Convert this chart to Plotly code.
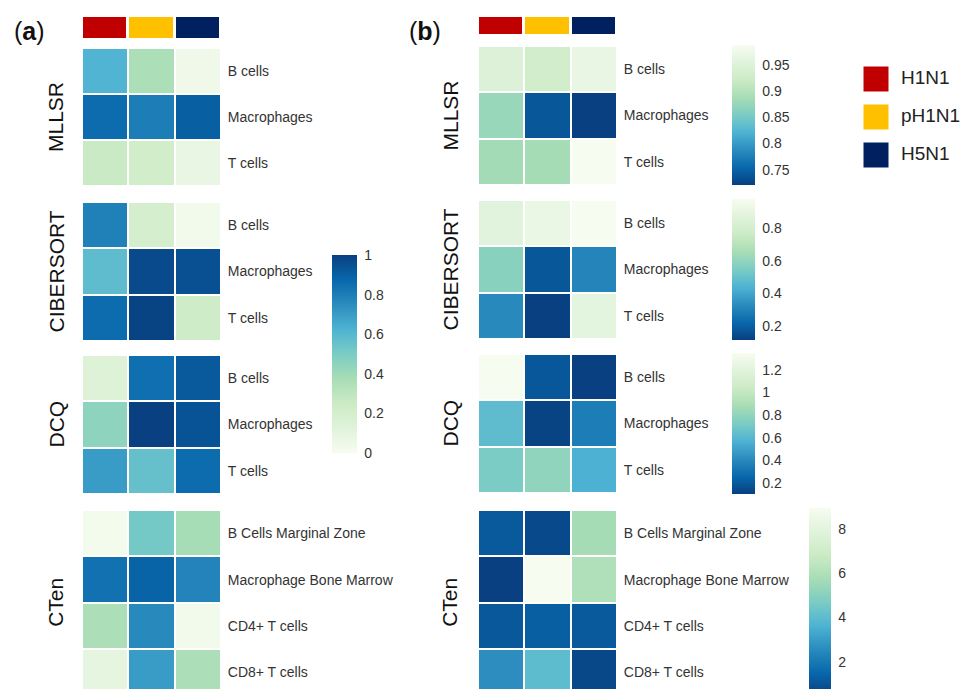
import plotly.graph_objects as go

# ---- data -------------------------------------------------------------
strains = ["H1N1", "pH1N1", "H5N1"]
strain_colors = ["#c00000", "#ffc000", "#002060"]

methods = ["MLLSR", "CIBERSORT", "DCQ", "CTen"]
mllsr_cells = ["B cells", "Macrophages", "T cells"]
cibersort_cells = ["B cells", "Macrophages", "T cells"]
dcq_cells = ["B cells", "Macrophages", "T cells"]
cten_cells = ["B Cells Marginal Zone", "Macrophage Bone Marrow",
              "CD4+ T cells", "CD8+ T cells"]

# (a) scaled scores, rows = cell types, columns = strains
a_mllsr = [[0.62, 0.36, 0.04], [0.86, 0.80, 0.90], [0.26, 0.22, 0.08]]
a_cibersort = [[0.79, 0.20, 0.03], [0.58, 0.97, 0.95], [0.86, 0.99, 0.24]]
a_dcq = [[0.14, 0.85, 0.92], [0.45, 1.00, 0.94], [0.70, 0.56, 0.86]]
a_cten = [[0.02, 0.52, 0.38], [0.84, 0.89, 0.78], [0.36, 0.76, 0.03],
          [0.10, 0.70, 0.36]]

# (b) raw scores
b_mllsr = [[0.948, 0.930, 0.967], [0.876, 0.740, 0.721], [0.884, 0.886, 0.988]]
b_cibersort = [[0.874, 0.917, 0.977], [0.580, 0.175, 0.310], [0.320, 0.114, 0.890]]
b_dcq = [[1.35, 0.19, 0.10], [0.625, 0.11, 0.35], [0.725, 0.80, 0.56]]
b_cten = [[1.13, 0.70, 5.70], [0.45, 8.95, 6.00], [1.10, 1.30, 1.15],
          [2.60, 4.00, 0.65]]

a_ticks = [0, 0.2, 0.4, 0.6, 0.8, 1]
b_mllsr_ticks = [0.75, 0.8, 0.85, 0.9, 0.95]
b_cibersort_ticks = [0.2, 0.4, 0.6, 0.8]
b_dcq_ticks = [0.2, 0.4, 0.6, 0.8, 1, 1.2]
b_cten_ticks = [2, 4, 6, 8]

# ---- styling ----------------------------------------------------------
GNBU = ["#f7fcf0", "#e0f3db", "#ccebc5", "#a8ddb5", "#7bccc4",
        "#4eb3d3", "#2b8cbe", "#0868ac", "#084081"]
GNBU_SCALE = [[i / (len(GNBU) - 1), c] for i, c in enumerate(GNBU)]
FONT = "Liberation Sans"
W, H = 965, 689
ROW_PX = 46.4


def fx(p):
    return p / W


def fy(p):
    return 1 - p / H


def fmt(v):
    return ("%g" % v)


fig = go.Figure()
axes = {}
annotations = []
counter = [0]


def add_axes(x0, x1, y0, y1, xrange, yrange, yextra=None):
    counter[0] += 1
    n = counter[0]
    xk = "xaxis" if n == 1 else "xaxis%d" % n
    yk = "yaxis" if n == 1 else "yaxis%d" % n
    xr = "x" if n == 1 else "x%d" % n
    yr = "y" if n == 1 else "y%d" % n
    axes[xk] = dict(domain=[fx(x0), fx(x1)], range=xrange, visible=False,
                    anchor=yr, fixedrange=True)
    yd = dict(domain=[max(fy(y1), 0), fy(y0)], range=yrange, anchor=xr,
              showgrid=False, zeroline=False, showline=False,
              fixedrange=True, visible=False)
    if yextra:
        yd.update(yextra)
        yd["visible"] = True
    axes[yk] = yd
    return xr, yr


panels = [
    dict(title="a", heat_x=(82, 221), strip_y=(17, 38), title_xy=(29, 31),
         label_x=56, reverse=False,
         blocks=[(a_mllsr, mllsr_cells, 48, 186, None),
                 (a_cibersort, cibersort_cells, 202, 341,
                  dict(x=332, top=255, len=198, thick=25, ticks=a_ticks)),
                 (a_dcq, dcq_cells, 355, 494, None),
                 (a_cten, cten_cells, 510, None, None)]),
    dict(title="b", heat_x=(478, 617), strip_y=(17, 34), title_xy=(425, 31),
         label_x=450, reverse=True,
         blocks=[(b_mllsr, mllsr_cells, 46, 185,
                  dict(x=732, top=45, len=140, thick=23, ticks=b_mllsr_ticks)),
                 (b_cibersort, cibersort_cells, 200, 339,
                  dict(x=732, top=199, len=141, thick=23, ticks=b_cibersort_ticks)),
                 (b_dcq, dcq_cells, 354, 493,
                  dict(x=732, top=353, len=141, thick=23, ticks=b_dcq_ticks)),
                 (b_cten, cten_cells, 510, None,
                  dict(x=809, top=508, len=188, thick=22, ticks=b_cten_ticks))]),
]

strip_scale = []
for i, c in enumerate(strain_colors):
    strip_scale += [[i / len(strain_colors), c], [(i + 1) / len(strain_colors), c]]

for p in panels:
    x0, x1 = p["heat_x"]
    # strain colour strip across the top
    sx, sy = add_axes(x0, x1, p["strip_y"][0], p["strip_y"][1],
                      [-0.5, 2.5], [-0.5, 0.5])
    fig.add_trace(go.Heatmap(z=[list(range(len(strains)))],
                             x=list(range(len(strains))), y=[0],
                             text=[strains], hoverinfo="text",
                             colorscale=strip_scale, zmin=-0.5,
                             zmax=len(strains) - 0.5, showscale=False,
                             xgap=3, xaxis=sx, yaxis=sy))
    annotations.append(dict(
        text="(<b>%s</b>)" % p["title"], x=fx(p["title_xy"][0]),
        y=fy(p["title_xy"][1]), xref="paper", yref="paper",
        xanchor="center", yanchor="middle", showarrow=False,
        font=dict(family=FONT, size=25, color="#111111")))

    for (z, rows, top, bottom, cb), method in zip(p["blocks"], methods):
        n = len(rows)
        full_bottom = top + n * ROW_PX if bottom is None else bottom
        rh = (full_bottom - top) / n
        vis_bottom = min(full_bottom, H)
        yr_top = -0.5 + (vis_bottom - top) / rh
        hx, hy = add_axes(x0, x1, top, vis_bottom, [-0.5, 2.5],
                          [yr_top, -0.5],
                          yextra=dict(side="right", tickmode="array",
                                      tickvals=list(range(n)), ticktext=rows,
                                      ticks="outside", ticklen=3,
                                      tickcolor="rgba(0,0,0,0)",
                                      tickfont=dict(family=FONT, size=14,
                                                    color="#333333")))
        flat = [v for r in z for v in r]
        if p["reverse"]:
            zmin, zmax = min(flat), max(flat)
        else:
            zmin, zmax = 0, 1
        tr = dict(z=z, x=list(range(len(strains))), y=list(range(n)),
                  colorscale=GNBU_SCALE, reversescale=p["reverse"],
                  zmin=zmin, zmax=zmax, xgap=2, ygap=2,
                  showscale=cb is not None, xaxis=hx, yaxis=hy)
        if cb is not None:
            tr["colorbar"] = dict(
                x=fx(cb["x"]), xanchor="left", xpad=0,
                y=fy(cb["top"]), yanchor="top", ypad=0,
                len=cb["len"], lenmode="pixels",
                thickness=cb["thick"], thicknessmode="pixels",
                outlinewidth=0, tickmode="array", tickvals=cb["ticks"],
                ticktext=[fmt(t) for t in cb["ticks"]],
                ticks="outside", ticklen=5, tickcolor="rgba(0,0,0,0)",
                tickfont=dict(family=FONT, size=14, color="#333333"))
        fig.add_trace(go.Heatmap(**tr))
        mid = (top + full_bottom) / 2
        annotations.append(dict(
            text=method, x=fx(p["label_x"]), y=fy(mid), xref="paper",
            yref="paper", xanchor="center", yanchor="middle",
            textangle=-90, showarrow=False,
            font=dict(family=FONT, size=21, color="#111111")))

# strain legend
lx, ly = add_axes(850, 965, 60, 174, [0, 115], [2.5, -0.5])
fig.add_trace(go.Scatter(
    x=[26] * len(strains), y=list(range(len(strains))), mode="markers",
    marker=dict(symbol="square", size=25, color=strain_colors,
                line=dict(width=0)),
    showlegend=False, hoverinfo="skip", xaxis=lx, yaxis=ly))
fig.add_trace(go.Scatter(
    x=[51] * len(strains), y=list(range(len(strains))), mode="text",
    text=strains, textposition="middle right",
    textfont=dict(family=FONT, size=19, color="#222222"),
    showlegend=False, hoverinfo="skip", xaxis=lx, yaxis=ly))

fig.update_layout(
    width=W, height=H, margin=dict(l=0, r=0, t=0, b=0, autoexpand=False),
    paper_bgcolor="white", plot_bgcolor="white",
    showlegend=False, annotations=annotations,
    font=dict(family=FONT), **axes)

fig.write_html("out.html")
